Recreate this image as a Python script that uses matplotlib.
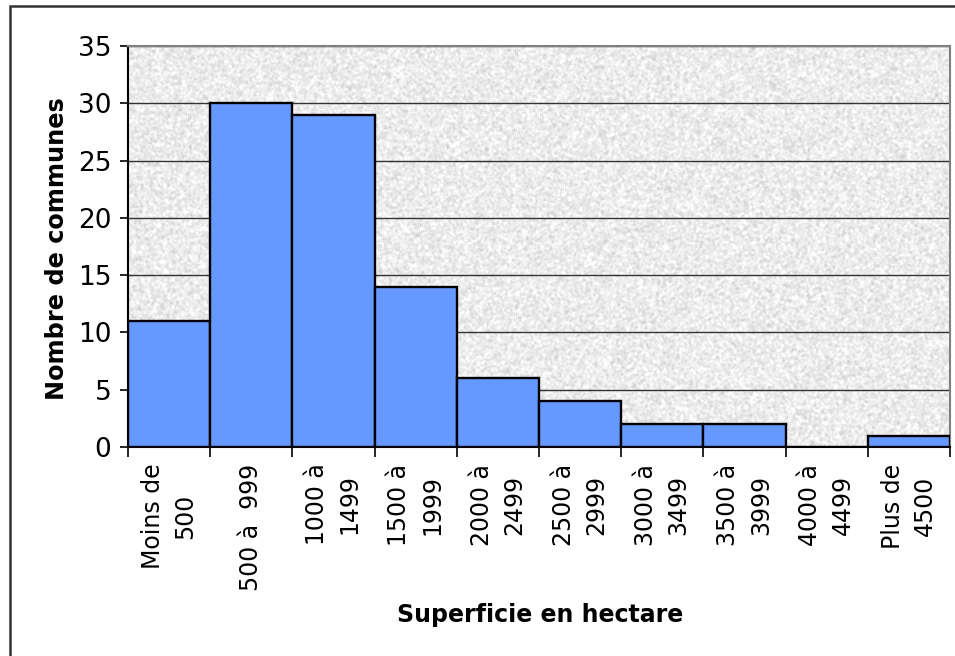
import numpy as np
import matplotlib
matplotlib.use("Agg")
import matplotlib.pyplot as plt
from matplotlib.patches import Rectangle

# Données
categories = ["Moins de\n500", "500 à  999", "1000 à\n1499", "1500 à\n1999",
              "2000 à\n2499", "2500 à\n2999", "3000 à\n3499", "3500 à\n3999",
              "4000 à\n4499", "Plus de\n4500"]
nb_communes = [11, 30, 29, 14, 6, 4, 2, 2, 0, 1]
y_ticks = [0, 5, 10, 15, 20, 25, 30, 35]

W, H = 955, 656
fig = plt.figure(figsize=(W / 100, H / 100), dpi=100)
fig.patch.set_facecolor("white")

# cadre extérieur
fig.patches.append(Rectangle((10 / W, -0.1), 1.2, 1 - 6 / H + 0.1,
                             transform=fig.transFigure, fill=False,
                             edgecolor="#333333", linewidth=1.8))

x0, x1, y0, y1 = 128, 950, 447, 46
ax = fig.add_axes([x0 / W, 1 - y0 / H, (x1 - x0) / W, (y0 - y1) / H])

# fond texturé (granit gris clair, grain fin)
rng = np.random.default_rng(3)
noise = rng.normal(size=(400, 820))
k = np.ones(3) / 3
noise = np.apply_along_axis(lambda r: np.convolve(r, k, mode="same"), 1, noise)
noise = np.apply_along_axis(lambda c: np.convolve(c, k, mode="same"), 0, noise)
tex = 0.925 + 0.035 * noise / noise.std()
tex = np.clip(tex, 0.72, 1.0)
ax.imshow(tex, cmap="gray", vmin=0, vmax=1, extent=[0, 10, 0, 35],
          aspect="auto", zorder=0, interpolation="nearest")

x = np.arange(len(categories)) + 0.5
ax.bar(x, nb_communes, width=1.0, color="#6699FF", edgecolor="black",
       linewidth=1.7, zorder=3)

ax.set_xlim(0, 10)
ax.set_ylim(0, 35)
ax.set_yticks(y_ticks)
ax.yaxis.grid(True, color="#333333", linewidth=1.0, zorder=1)
ax.set_axisbelow(True)

ax.set_xticks(np.arange(0, 11), minor=False)
ax.set_xticklabels([])
ax.set_xticks(x, minor=True)
ax.set_xticklabels(categories, minor=True, rotation=90, fontsize=17,
                   ha="center", va="top", multialignment="center",
                   linespacing=1.45)
ax.tick_params(axis="x", which="minor", length=0, pad=12)
ax.tick_params(axis="x", which="major", length=7, width=1.2, color="black")
ax.tick_params(axis="y", length=6, width=1.2, labelsize=19, pad=6)

for s in ["top", "right"]:
    ax.spines[s].set_color("#808080")
    ax.spines[s].set_linewidth(1.5)
for s in ["left", "bottom"]:
    ax.spines[s].set_color("black")
    ax.spines[s].set_linewidth(1.5)

fig.text(57 / W, 1 - 249 / H, "Nombre de communes", rotation=90,
         fontsize=17.3, fontweight="bold", ha="center", va="center")
fig.text(540 / W, 1 - 615 / H, "Superficie en hectare",
         fontsize=17, fontweight="bold", ha="center", va="center")

fig.savefig("out.png", dpi=100)
